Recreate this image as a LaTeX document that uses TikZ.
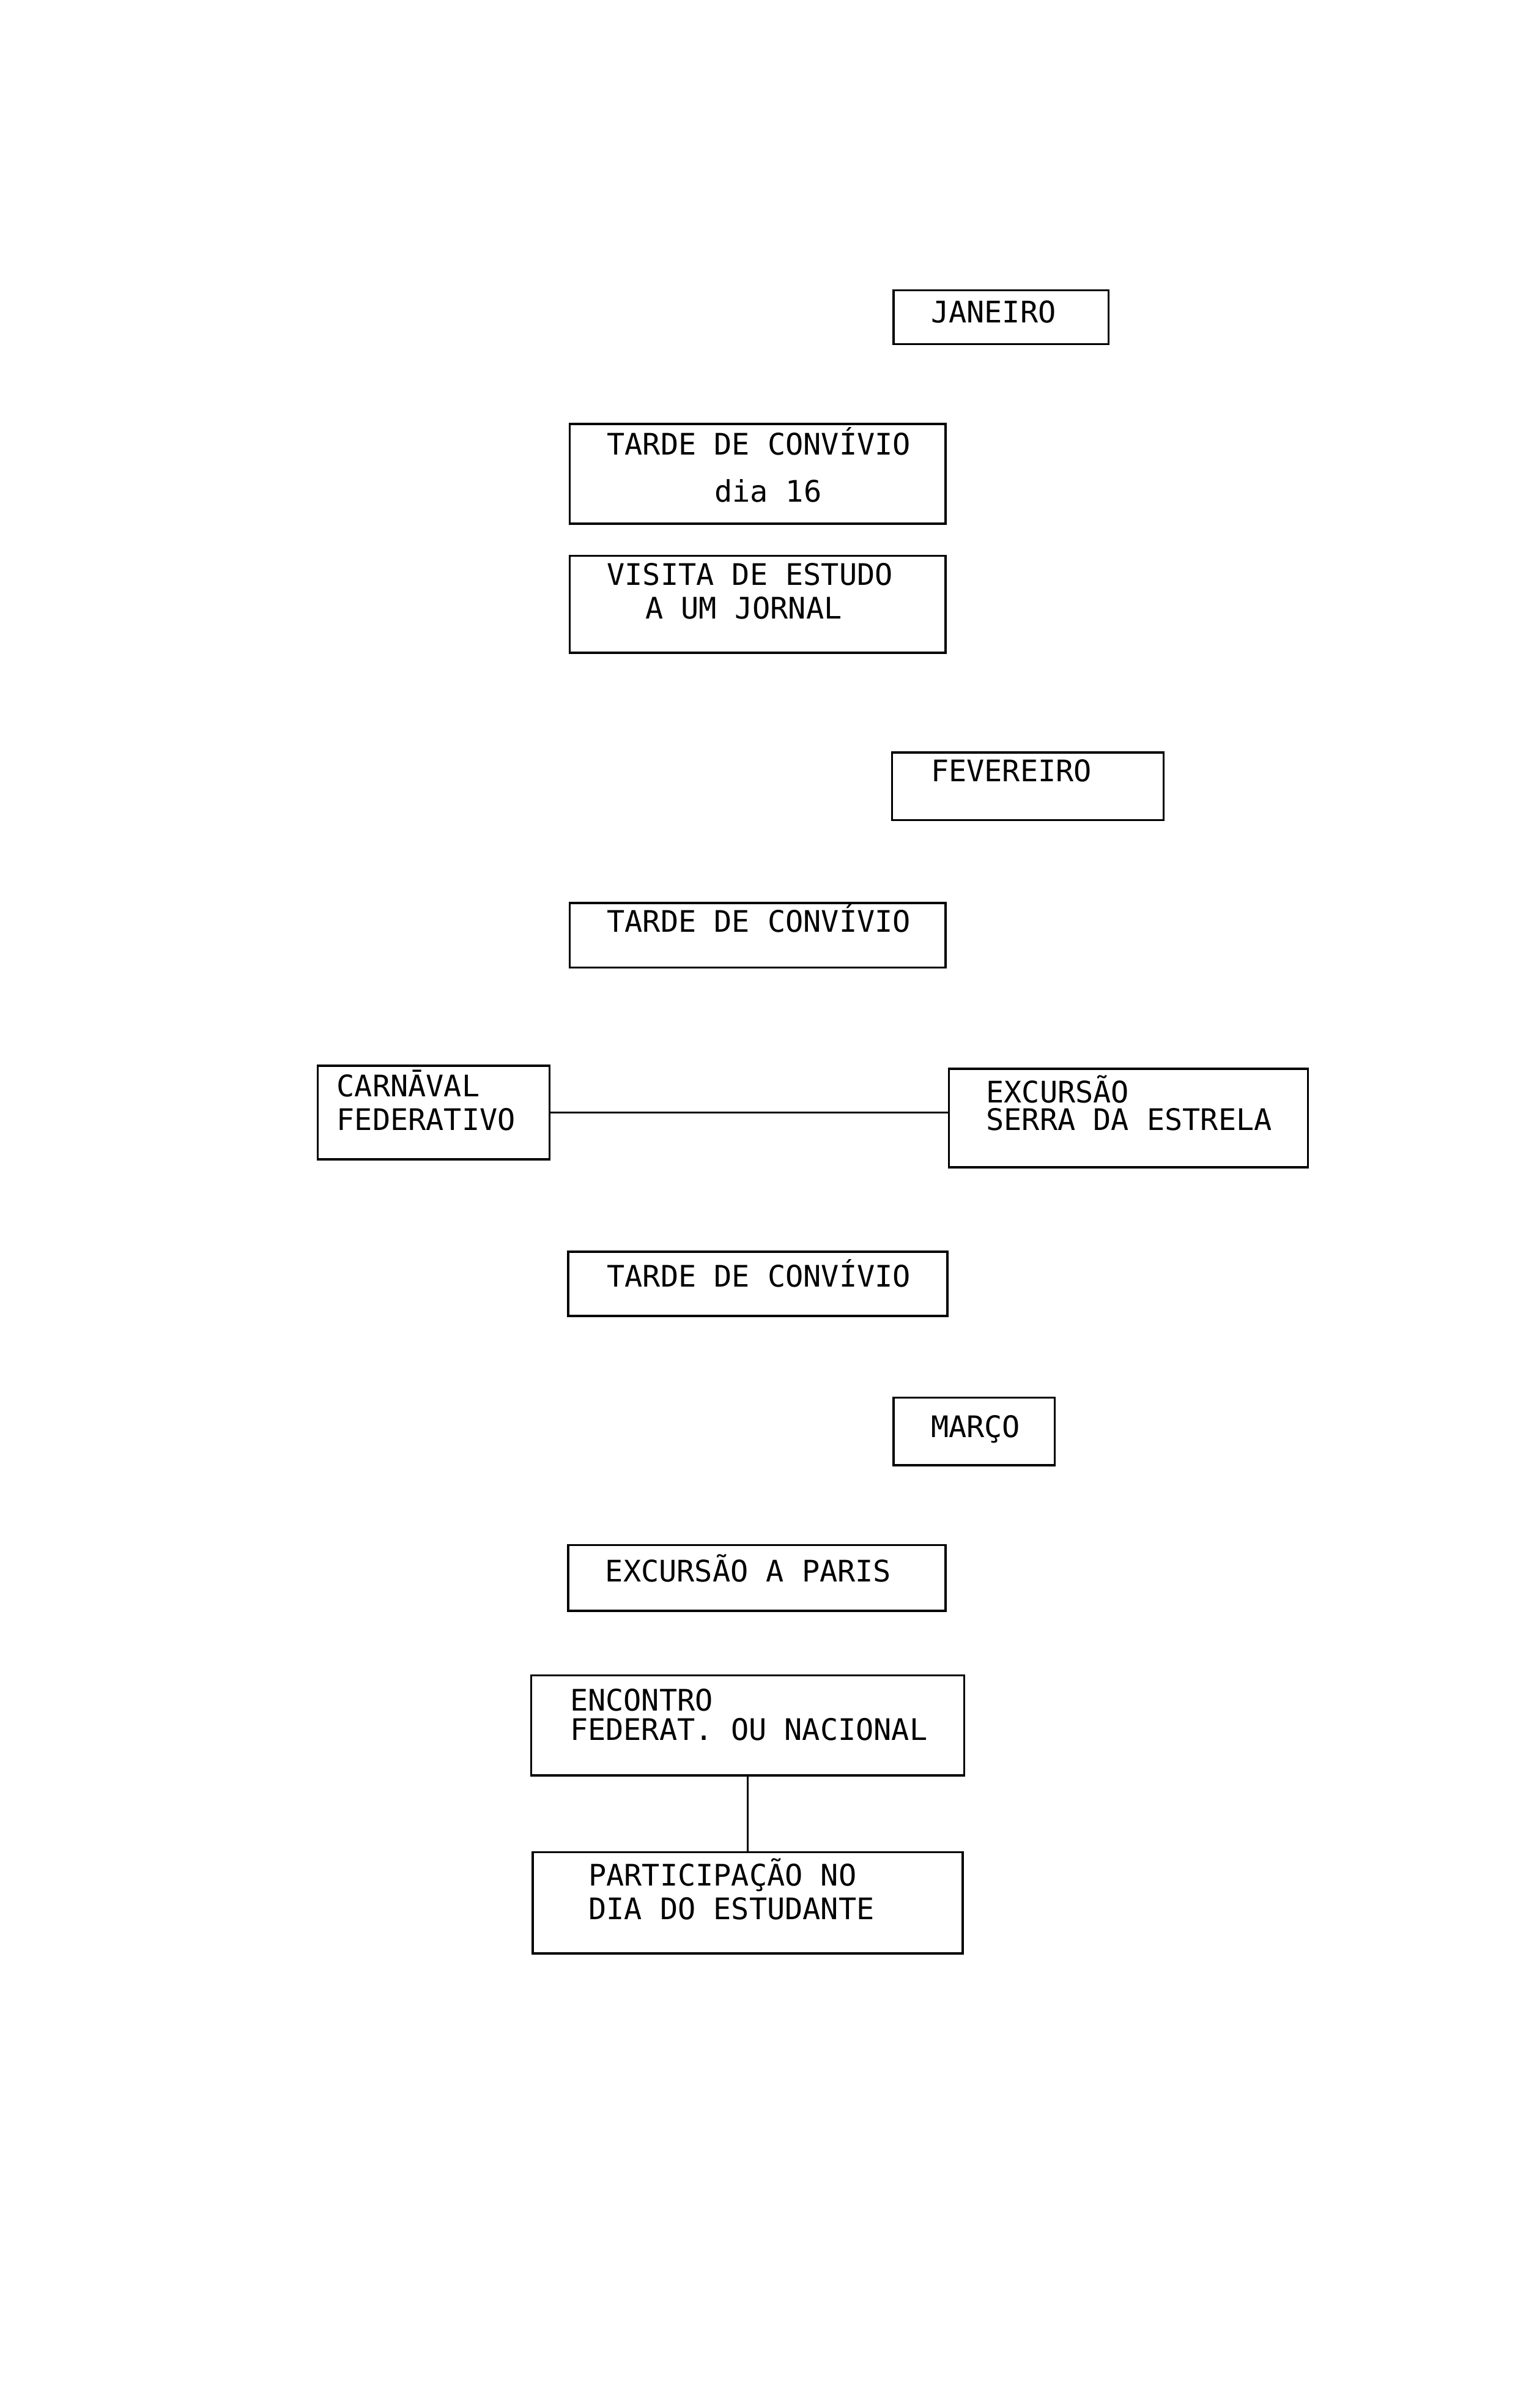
\documentclass[tikz,border=0pt]{standalone}
\usepackage{fontspec}
\setmonofont{DejaVu Sans Mono}
\begin{document}
\begin{tikzpicture}[
    x=0.02cm, y=-0.02cm,
    box/.style={rectangle, draw, line width=0.8pt, inner sep=0pt},
    txt/.style={font=\ttfamily\fontsize{11}{13}\selectfont, inner sep=0pt, anchor=base west},
    line/.style={draw, line width=0.6pt}
]
    \useasboundingbox (0,0) rectangle (1001,1568);

    % janeiro
    \node [box, minimum width=2.8cm, minimum height=0.7cm] (jan) at (652,206.5) {};
    \node [txt] (janT) at (606,210) {JANEIRO};

    \node [box, minimum width=4.9cm, minimum height=1.3cm] (tarde1) at (493.5,308.5) {};
    \node [txt] (tarde1T) at (395,296) {TARDE DE CONVÍVIO};
    \node [txt] (tarde1D) at (465,327) {dia 16};

    \node [box, minimum width=4.9cm, minimum height=1.26cm] (jornal) at (493.5,393.5) {};
    \node [txt] (jornalA) at (395,381) {VISITA DE ESTUDO};
    \node [txt] (jornalB) at (420,403) {A UM JORNAL};

    % fevereiro
    \node [box, minimum width=3.54cm, minimum height=0.88cm] (fev) at (669.5,512) {};
    \node [txt] (fevT) at (606,509) {FEVEREIRO};

    \node [box, minimum width=4.9cm, minimum height=0.84cm] (tarde2) at (493.5,609) {};
    \node [txt] (tarde2T) at (395,607) {TARDE DE CONVÍVIO};

    \node [box, minimum width=3.02cm, minimum height=1.22cm] (carnaval) at (282.5,724.5) {};
    \node [txt] (carnavalA) at (219,714) {CARNĀVAL};
    \node [txt] (carnavalB) at (219,736) {FEDERATIVO};

    \node [box, minimum width=4.68cm, minimum height=1.28cm] (serra) at (735,728) {};
    \node [txt] (serraA) at (642,718) {EXCURSÃO};
    \node [txt] (serraB) at (642,736) {SERRA DA ESTRELA};

    \node [box, minimum width=4.94cm, minimum height=0.84cm] (tarde3) at (493.5,836) {};
    \node [txt] (tarde3T) at (395,838) {TARDE DE CONVÍVIO};

    % marco
    \node [box, minimum width=2.1cm, minimum height=0.88cm] (mar) at (634.5,932) {};
    \node [txt] (marT) at (606,936) {MARÇO};

    \node [box, minimum width=4.92cm, minimum height=0.86cm] (paris) at (493,1027.5) {};
    \node [txt] (parisT) at (394,1030) {EXCURSÃO A PARIS};

    \node [box, minimum width=5.64cm, minimum height=1.3cm] (encontro) at (487,1123.5) {};
    \node [txt] (encontroA) at (371,1114) {ENCONTRO};
    \node [txt] (encontroB) at (371,1133) {FEDERAT. OU NACIONAL};

    \node [box, minimum width=5.6cm, minimum height=1.32cm] (estudante) at (487,1239) {};
    \node [txt] (estudanteA) at (383,1228) {PARTICIPAÇÃO NO};
    \node [txt] (estudanteB) at (383,1250) {DIA DO ESTUDANTE};

    \draw [line] (carnaval.east) -- (carnaval.east -| serra.west);
    \draw [line] (encontro.south) -- (estudante.north);
\end{tikzpicture}
\end{document}
